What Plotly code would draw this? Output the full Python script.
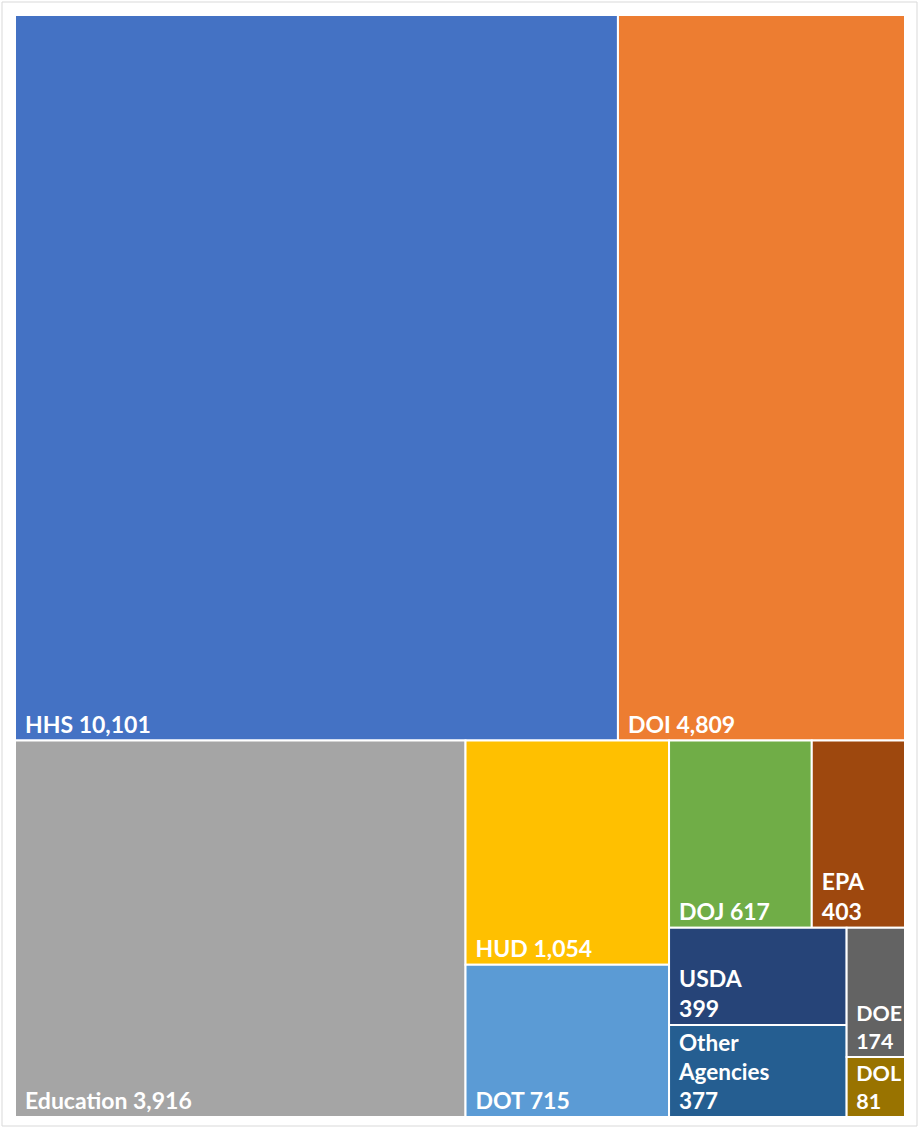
import plotly.graph_objects as go

agencies = ["HHS", "DOI", "Education", "HUD", "DOT", "DOJ", "EPA", "USDA",
            "Other Agencies", "DOE", "DOL"]
display_names = ["HHS", "DOI", "Education", "HUD", "DOT", "DOJ", "EPA", "USDA",
                 "Other<br>Agencies", "DOE", "DOL"]
values = [10101, 4809, 3916, 1054, 715, 617, 403, 399, 377, 174, 81]
separators = [" ", " ", " ", " ", " ", " ", "<br>", "<br>", "<br>", "<br>", "<br>"]
colors = ["#4472C4", "#ED7D31", "#A5A5A5", "#FFC000", "#5B9BD5", "#70AD47",
          "#9E480E", "#264478", "#255E91", "#636363", "#997300"]

pad = "\u00a0\u200a"
texts = [f"<b>{pad}{n.replace('<br>', '<br>' + pad)}{s.replace('<br>', '<br>' + pad)}{v:,}</b>"
         for n, s, v in zip(display_names, separators, values)]

W, H = 920, 1129
ml, mr, mt, mb = 15, 15, 15, 12
pw, ph = W - ml - mr, H - mt - mb

fig = go.Figure(go.Treemap(
    labels=agencies,
    parents=[""] * len(agencies),
    values=values,
    text=texts,
    texttemplate="%{text}",
    textposition="bottom left",
    textfont=dict(family="Lato", size=23, color="white"),
    sort=True,
    tiling=dict(packing="squarify", squarifyratio=1.4, pad=0),
    marker=dict(colors=colors, line=dict(color="white", width=2),
                pad=dict(t=0, l=0, r=0, b=0)),
    pathbar=dict(visible=False),
    hoverinfo="label+value",
    root=dict(color="white"),
))

fig.update_layout(
    width=W, height=H,
    margin=dict(l=ml, r=mr, t=mt, b=mb),
    paper_bgcolor="white",
    showlegend=False,
    shapes=[dict(type="rect", xref="paper", yref="paper",
                 x0=(2 - ml) / pw, x1=1 + (W - 3 - (W - mr)) / pw,
                 y0=-(mb - 3) / ph, y1=1 + (mt - 2) / ph,
                 line=dict(color="#D9D9D9", width=1))],
)

fig.write_html("out.html", config={"displayModeBar": False},
               post_script="document.body.style.margin='0px';")
